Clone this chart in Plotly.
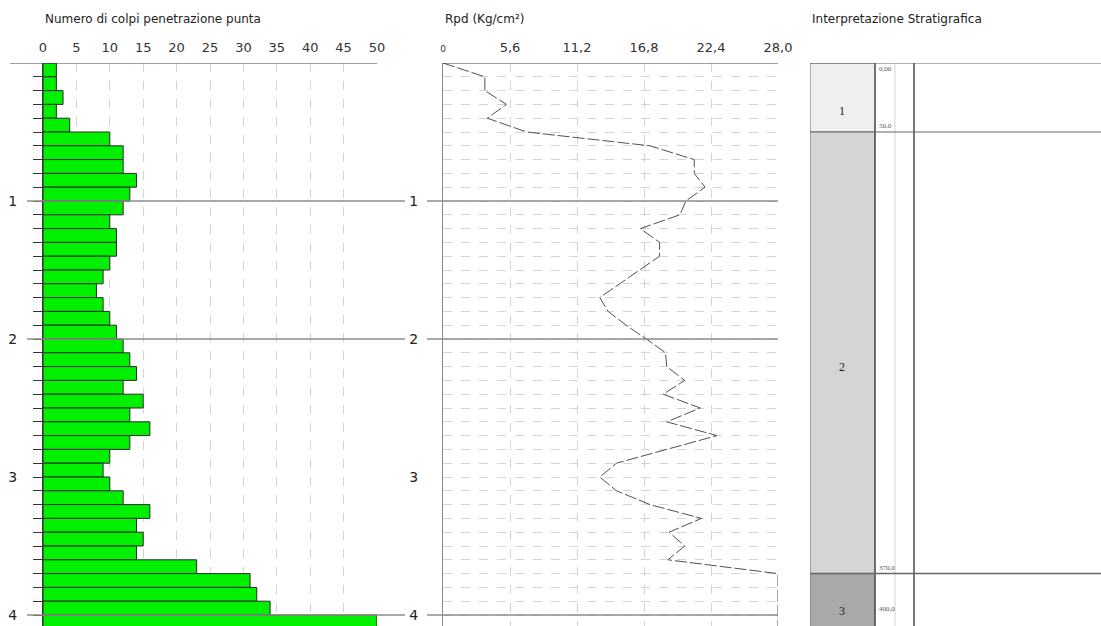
import plotly.graph_objects as go

# ---- data ----
depth_bottom = [0.1, 0.2, 0.3, 0.4, 0.5, 0.6, 0.7, 0.8, 0.9, 1.0,
                1.1, 1.2, 1.3, 1.4, 1.5, 1.6, 1.7, 1.8, 1.9, 2.0,
                2.1, 2.2, 2.3, 2.4, 2.5, 2.6, 2.7, 2.8, 2.9, 3.0,
                3.1, 3.2, 3.3, 3.4, 3.5, 3.6, 3.7, 3.8, 3.9, 4.0, 4.1]
colpi = [2, 2, 3, 2, 4, 10, 12, 12, 14, 13,
         12, 10, 11, 11, 10, 9, 8, 9, 10, 11,
         12, 13, 14, 12, 15, 13, 16, 13, 10, 9,
         10, 12, 16, 14, 15, 14, 23, 31, 32, 34, 50]

rpd_depth = [0.0] + depth_bottom
rpd = [0.0, 3.5, 3.5, 5.3, 3.7, 7.0, 17.3, 21.0, 21.0, 21.9, 20.3,
       19.8, 16.5, 18.1, 18.1, 16.4, 14.8, 13.1, 13.8, 15.3, 17.0,
       18.6, 18.7, 20.2, 18.4, 21.5, 18.7, 22.9, 18.7, 14.5, 13.1,
       14.5, 17.3, 21.6, 18.9, 20.2, 18.8, 28.0, 28.0, 28.0, 28.0, 28.0]

colpi_ticks = [0, 5, 10, 15, 20, 25, 30, 35, 40, 45, 50]
rpd_ticks = [0, 5.6, 11.2, 16.8, 22.4, 28.0]
rpd_ticktext = ["<span style='font-size:9px'>0</span>", "5,6", "11,2", "16,8", "22,4", "28,0"]
depth_ticks = [1, 2, 3, 4]
depth_lines = [1, 2, 4]

strata_names = ["1", "2", "3"]
strata_top = [0.0, 0.5, 3.7]
strata_bottom = [0.5, 3.7, 4.1]
strata_colors = ["#efefef", "#d5d5d5", "#a9a9a9"]
boundary_depth = [0.0, 0.5, 3.7, 4.0]
boundary_text = ["0,00", "50,0", "370,0", "400,0"]

W, H = 1101, 626
TOP = 63
PX_PER_M = 138.0
YMAX = (H - TOP) / PX_PER_M
yrange = [YMAX, 0]

def px(x):
    return x / W

fig = go.Figure()

# left: blow counts
fig.add_trace(go.Bar(
    x=colpi, y=[d - 0.05 for d in depth_bottom], width=0.1, orientation="h",
    marker=dict(color="#00f000", line=dict(color="#2a2a2a", width=1)),
    xaxis="x", yaxis="y", showlegend=False, hoverinfo="x+y"))

# middle: Rpd
fig.add_trace(go.Scatter(
    x=rpd, y=rpd_depth, mode="lines",
    line=dict(color="#505050", width=1, dash="12px,3px"),
    xaxis="x2", yaxis="y2", showlegend=False))

# right: stratigraphy
fig.add_trace(go.Bar(
    x=[65] * len(strata_names), base=0,
    y=[(t + b) / 2 for t, b in zip(strata_top, strata_bottom)],
    width=[b - t for t, b in zip(strata_top, strata_bottom)],
    orientation="h",
    marker=dict(color=strata_colors, line=dict(color="#6a6a6a", width=1)),
    xaxis="x3", yaxis="y3", showlegend=False, hoverinfo="skip"))

for name, t, b in zip(strata_names, strata_top, strata_bottom):
    fig.add_annotation(x=32, y=min((t + b) / 2 + 0.1, 3.97), xref="x3", yref="y3",
                       text=name, showarrow=False,
                       font=dict(family="Liberation Serif", size=12, color="#222"))

for d, txt in zip(boundary_depth, boundary_text):
    fig.add_annotation(x=67, y=d, xref="x3", yref="y3", text=txt, showarrow=False,
                       xanchor="left", yanchor="top" if d == 0 else "bottom",
                       font=dict(family="Liberation Serif", size=7, color="#555"))

tickfont = dict(family="DejaVu Sans", size=13, color="#333")
grid = dict(showgrid=True, gridcolor="#d4d4d4", griddash="dash", gridwidth=1, zeroline=False)

fig.update_layout(
    width=W, height=H,
    margin=dict(l=0, r=0, t=TOP, b=0, autoexpand=False),
    plot_bgcolor="white", paper_bgcolor="white",
    font=dict(family="DejaVu Sans", color="#333"),
    xaxis=dict(domain=[px(43), px(377)], range=[0, 50], side="top", anchor="y", automargin=False,
               tickvals=colpi_ticks, ticks="", tickfont=tickfont, ticklabelstandoff=7, **grid),
    yaxis=dict(domain=[0, 1], range=yrange, anchor="x", tickvals=depth_ticks, automargin=False,
               ticks="outside", ticklen=9, tickcolor="#333", showgrid=False, zeroline=False,
               showline=True, linecolor="#333", linewidth=1,
               minor=dict(tickvals=depth_bottom, ticks="outside", ticklen=9, tickcolor="#333"),
               tickfont=dict(family="DejaVu Sans", size=14, color="#222"), ticklabelstandoff=13),
    xaxis2=dict(domain=[px(443), px(778)], range=[0, 28], side="top", anchor="y2", automargin=False,
                tickvals=rpd_ticks, ticktext=rpd_ticktext, ticks="", tickfont=tickfont,
                ticklabelstandoff=7, **grid),
    yaxis2=dict(domain=[0, 1], range=yrange, anchor="x2", tickvals=depth_ticks, ticks="",
                automargin=False,
                showgrid=False, zeroline=False, showline=True, linecolor="#8a8a8a", linewidth=1,
                minor=dict(tickvals=depth_bottom, showgrid=True, gridcolor="#d4d4d4",
                           griddash="dash", gridwidth=1),
                tickfont=dict(family="DejaVu Sans", size=14, color="#222"), ticklabelstandoff=21),
    xaxis3=dict(domain=[px(810), 1], range=[0, 291], visible=False, anchor="y3", automargin=False),
    yaxis3=dict(domain=[0, 1], range=yrange, visible=False, anchor="x3", automargin=False),
)

# titles
for x0, txt in [(43, "Numero di colpi penetrazione punta"), (443, "Rpd (Kg/cm²)"),
                (810, "Interpretazione Stratigrafica")]:
    fig.add_annotation(x=px(x0), y=1 + 44 / (H - TOP), xref="paper", yref="paper",
                       text=txt, showarrow=False, xanchor="left", yanchor="middle",
                       font=dict(family="DejaVu Sans", size=12, color="#222"))

shapes = []
# top lines
shapes.append(dict(type="line", xref="paper", yref="y", x0=px(10), x1=px(377), y0=0, y1=0,
                   line=dict(color="#444", width=1)))
shapes.append(dict(type="line", xref="paper", yref="y2", x0=px(443), x1=px(778), y0=0, y1=0,
                   line=dict(color="#444", width=1)))
# integer depth lines
for d in depth_lines:
    shapes.append(dict(type="line", xref="paper", yref="y", x0=px(27), x1=px(405), y0=d, y1=d,
                       line=dict(color="#8c8c8c", width=1.5)))
    shapes.append(dict(type="line", xref="paper", yref="y2", x0=px(427), x1=px(778), y0=d, y1=d,
                       line=dict(color="#8c8c8c", width=1.5)))
# stratigraphy frame
shapes.append(dict(type="line", xref="x3", yref="paper", x0=65, x1=65, y0=0, y1=1,
                   line=dict(color="#333", width=1)))
shapes.append(dict(type="line", xref="x3", yref="paper", x0=85, x1=85, y0=0, y1=1,
                   line=dict(color="#e2e2e2", width=1.5)))
shapes.append(dict(type="line", xref="x3", yref="paper", x0=104, x1=104, y0=0, y1=1,
                   line=dict(color="#777", width=2)))
shapes.append(dict(type="line", xref="x3", yref="y3", x0=0, x1=291, y0=0, y1=0,
                   line=dict(color="#666", width=1)))
for t in strata_top[1:]:
    shapes.append(dict(type="line", xref="x3", yref="y3", x0=0 if t > 1 else 65, x1=291, y0=t, y1=t,
                       line=dict(color="#666", width=1.5 if t > 1 else 1)))
fig.update_layout(shapes=shapes)

fig.write_html("out.html", config={"displayModeBar": False},
               post_script="document.body.style.margin='0';document.body.style.overflow='hidden';")
